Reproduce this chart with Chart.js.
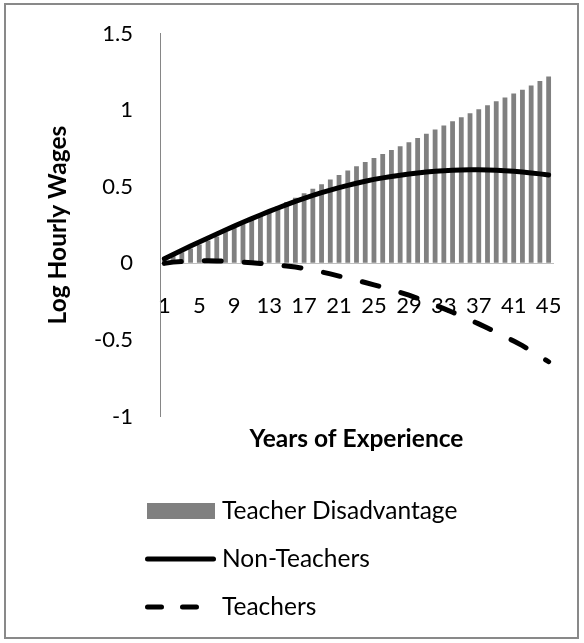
<!DOCTYPE html>
<html>
<head>
<meta charset="utf-8">
<script src="https://cdn.jsdelivr.net/npm/chart.js@4.4.1/dist/chart.umd.min.js"></script>
<style>
  html, body { margin: 0; padding: 0; background: #fff; }
  #wrap { width: 584px; height: 643px; position: relative; }
</style>
</head>
<body>
<div id="wrap"><canvas id="chart"></canvas></div>
<script>
// years of experience (categories)
const years = ["1", "2", "3", "4", "5", "6", "7", "8", "9", "10",
  "11", "12", "13", "14", "15", "16", "17", "18", "19", "20",
  "21", "22", "23", "24", "25", "26", "27", "28", "29", "30",
  "31", "32", "33", "34", "35", "36", "37", "38", "39", "40",
  "41", "42", "43", "44", "45"];
// only every 4th year gets a label
const shownYears = ["1", "5", "9", "13", "17", "21", "25", "29", "33", "37", "41", "45"];

const nonTeachers = [0.030, 0.058, 0.086, 0.113, 0.140, 0.166, 0.192, 0.218, 0.243, 0.268,
  0.292, 0.316, 0.339, 0.361, 0.383, 0.404, 0.424, 0.443, 0.461, 0.478,
  0.494, 0.509, 0.523, 0.536, 0.548, 0.558, 0.567, 0.575, 0.583, 0.590,
  0.596, 0.601, 0.605, 0.608, 0.610, 0.611, 0.611, 0.610, 0.608, 0.605,
  0.601, 0.596, 0.590, 0.584, 0.577];

const teachers = [0.000, 0.008, 0.013, 0.016, 0.017, 0.017, 0.016, 0.014, 0.011, 0.008,
  0.004, -0.001, -0.006, -0.011, -0.017, -0.024, -0.033, -0.044, -0.056, -0.069,
  -0.083, -0.097, -0.111, -0.125, -0.140, -0.156, -0.172, -0.189, -0.207, -0.228,
  -0.250, -0.272, -0.295, -0.319, -0.344, -0.369, -0.395, -0.422, -0.450, -0.478,
  -0.507, -0.537, -0.571, -0.606, -0.642];

const disadvantage = [0.030, 0.050, 0.073, 0.097, 0.123, 0.149, 0.176, 0.204, 0.232, 0.260,
  0.288, 0.317, 0.345, 0.372, 0.400, 0.428, 0.457, 0.487, 0.517, 0.547,
  0.577, 0.606, 0.634, 0.661, 0.688, 0.714, 0.739, 0.764, 0.790, 0.818,
  0.846, 0.873, 0.900, 0.927, 0.954, 0.980, 1.006, 1.032, 1.058, 1.083,
  1.108, 1.133, 1.161, 1.190, 1.219];

const yTicks = [-1, -0.5, 0, 0.5, 1, 1.5];

Chart.defaults.font.family = "Lato";
const tickFont = { family: "Lato", size: 22 };
const titleFont = { family: "Lato", size: 24.5, weight: "bold" };

// white background + grey frame round the whole thing
const frame = {
  id: "frame",
  beforeDraw(chart) {
    const ctx = chart.ctx;
    ctx.save();
    ctx.fillStyle = "#fff";
    ctx.fillRect(0, 0, chart.width, chart.height);
    ctx.strokeStyle = "#898989";
    ctx.lineWidth = 2;
    ctx.strokeRect(5, 4, 573, 634);
    ctx.restore();
  }
};

// legend stacked one item per row, like the excel one
const stackLegend = {
  id: "stackLegend",
  afterDraw(chart) {
    const ctx = chart.ctx;
    const x0 = 145, x1 = 216, textX = 222;
    const rows = [511, 559, 607];
    ctx.save();
    ctx.font = "24.5px Lato";
    ctx.textBaseline = "middle";
    chart.data.datasets.forEach((ds, i) => {
      const y = rows[i];
      if (ds.type === "bar") {
        ctx.fillStyle = ds.backgroundColor;
        ctx.fillRect(x0 + 2, y - 8, 68, 16);
      } else {
        ctx.strokeStyle = ds.borderColor;
        ctx.lineWidth = ds.borderWidth;
        ctx.lineCap = "round";
        ctx.setLineDash(ds.borderDash ? [14, 21] : []);
        ctx.beginPath();
        ctx.moveTo(x0 + 2.5, y);
        ctx.lineTo(x1 - 2.5, y);
        ctx.stroke();
      }
      ctx.fillStyle = "#000";
      ctx.fillText(ds.label, textX, y);
    });
    ctx.restore();
  }
};

new Chart(document.getElementById("chart"), {
  data: {
    labels: years,
    datasets: [
      {
        type: "bar",
        label: "Teacher Disadvantage",
        data: disadvantage,
        backgroundColor: "#808080",
        barPercentage: 0.55,
        categoryPercentage: 1,
        order: 3
      },
      {
        type: "line",
        label: "Non-Teachers",
        data: nonTeachers,
        borderColor: "#000",
        borderWidth: 5,
        borderCapStyle: "round",
        pointRadius: 0,
        tension: 0,
        order: 2
      },
      {
        type: "line",
        label: "Teachers",
        data: teachers,
        borderColor: "#000",
        borderWidth: 5,
        borderDash: [17, 23],
        borderCapStyle: "round",
        pointRadius: 0,
        tension: 0,
        order: 1
      }
    ]
  },
  options: {
    responsive: true,
    maintainAspectRatio: false,
    animation: false,
    layout: { padding: { left: 0, right: 31, top: 33.5, bottom: 189 } },
    plugins: {
      legend: { display: false },
      tooltip: { enabled: false },
      title: {
        display: true,
        position: "bottom",
        fullSize: false,
        text: "Years of Experience",
        font: titleFont,
        color: "#000",
        padding: { top: 8, bottom: 0 }
      }
    },
    scales: {
      x: {
        position: { y: 0 },
        offset: true,
        // invisible tick marks push the labels down without adding layout padding
        grid: { display: true, drawOnChartArea: false, drawTicks: true, tickLength: 29, tickColor: "rgba(0,0,0,0)" },
        border: { color: "#bfbfbf", width: 1 },
        ticks: {
          autoSkip: false,
          maxRotation: 0,
          padding: 0,
          color: "#000",
          font: tickFont,
          callback: (v, i) => shownYears.includes(years[i]) ? years[i] : ""
        }
      },
      y: {
        min: -1,
        max: 1.5,
        afterBuildTicks: (s) => { s.ticks = yTicks.map((v) => ({ value: v })); },
        afterFit: (s) => { s.width = 160; },
        grid: { display: true, drawOnChartArea: false, drawTicks: true, tickLength: 27, tickColor: "rgba(0,0,0,0)" },
        border: { color: "#868686", width: 1 },
        ticks: { padding: 0, color: "#000", font: tickFont, callback: (v) => String(v) },
        title: {
          display: true,
          text: "Log Hourly Wages",
          font: titleFont,
          color: "#000",
          padding: { top: 43, bottom: 0 }
        }
      }
    }
  },
  plugins: [frame, stackLegend]
});
</script>
</body>
</html>
